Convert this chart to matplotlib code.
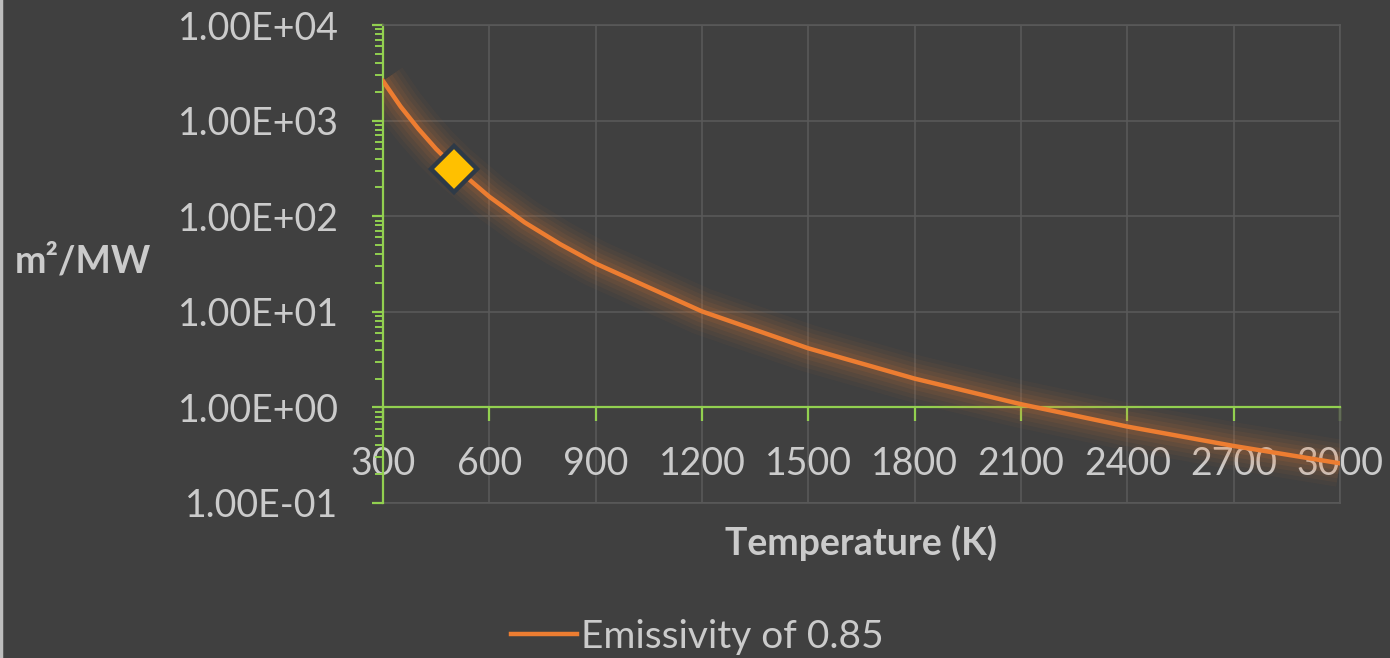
"""Area per MW of radiated heat vs temperature (emissivity 0.85), log scale."""
import matplotlib
matplotlib.use("Agg")
import matplotlib.pyplot as plt
from matplotlib.ticker import FixedLocator, FuncFormatter, LogLocator, NullFormatter
from matplotlib.lines import Line2D

# --------------------------------------------------------------------------- #
# Data
# --------------------------------------------------------------------------- #
temperature_k = [300, 350, 400, 450, 500, 600, 700, 800, 900, 1200, 1500,
                 1800, 2100, 2400, 2700, 3000]
area_m2_per_mw = [2600, 1400, 820, 505, 332, 160, 86, 51, 32, 10.1, 4.15,
                  2.0, 1.08, 0.63, 0.395, 0.26]
marker_t = [500]
marker_area = [310]
x_ticks = [300, 600, 900, 1200, 1500, 1800, 2100, 2400, 2700, 3000]
series_label = "Emissivity of 0.85"

BG = "#404040"
TXT = "#cbcbcb"
GRID = "#595959"
GREEN = "#92d050"
ORANGE = "#ed7d31"
FS = 27

plt.rcParams["font.family"] = ["Lato", "DejaVu Sans"]

fig = plt.figure(figsize=(13.9, 6.58), dpi=100, facecolor=BG)
ax = fig.add_axes([0.2755, 0.2356, 0.6885, 0.7264], facecolor=BG)

# soft glow under the line
for lw, a in [(34, 0.04), (28, 0.05), (22, 0.06), (16, 0.08), (10, 0.10)]:
    ax.plot(temperature_k, area_m2_per_mw, color=ORANGE, lw=lw, alpha=a,
            solid_capstyle="butt", solid_joinstyle="round", zorder=3)
ax.plot(temperature_k, area_m2_per_mw, color=ORANGE, lw=3.2,
        solid_joinstyle="round", zorder=4)
ax.plot(marker_t, marker_area, marker="D", ms=23, mfc="#ffc000",
        mec="#2e3a47", mew=3.2, ls="none", zorder=5, clip_on=False)

ax.set_yscale("log")
ax.set_xlim(300, 3000)
ax.set_ylim(0.1, 1e4)

ax.xaxis.set_major_locator(FixedLocator(x_ticks))
ax.yaxis.set_major_locator(LogLocator(base=10, numticks=10))
ax.yaxis.set_minor_locator(LogLocator(base=10, subs=range(2, 10), numticks=20))
ax.yaxis.set_minor_formatter(NullFormatter())
ax.yaxis.set_major_formatter(FuncFormatter(lambda v, _: f"{v:.2E}"))

ax.grid(True, which="major", color=GRID, lw=1.2, zorder=0)
ax.set_axisbelow(True)

# x axis crosses at y = 1
ax.spines["bottom"].set_position(("data", 1))
ax.spines["bottom"].set_color(GREEN)
ax.spines["bottom"].set_linewidth(1.6)
ax.spines["left"].set_color(GREEN)
ax.spines["left"].set_linewidth(1.6)
for s in ("top", "right"):
    ax.spines[s].set_color(GRID)
    ax.spines[s].set_linewidth(1.2)
ax.add_line(Line2D([0, 1], [0, 0], transform=ax.transAxes, color=GRID,
                   lw=1.2, clip_on=False, zorder=0))

ax.tick_params(axis="x", which="major", direction="out", length=10, width=1.6,
               color=GREEN, labelcolor=TXT, labelsize=FS, pad=18)
ax.tick_params(axis="y", which="major", direction="out", length=8, width=1.6,
               color=GREEN, labelcolor=TXT, labelsize=FS, pad=24)
ax.tick_params(axis="y", which="minor", direction="out", length=6, width=1.4,
               color=GREEN)

ax.set_xlabel("Temperature (K)", color=TXT, fontsize=FS, fontweight="bold",
              labelpad=0)
ax.xaxis.set_label_coords(0.5, -0.045)
ax.set_ylabel("m\u00b2/MW", color=TXT, fontsize=FS, fontweight="bold",
              rotation=0, ha="left", va="center")
ax.yaxis.set_label_coords(-0.385, 0.505)

leg_handle = Line2D([], [], color=ORANGE, lw=3.2)
fig.legend([leg_handle], [series_label], loc="center",
           bbox_to_anchor=(697 / 1390, 1 - 637 / 658), frameon=False,
           fontsize=FS + 1, labelcolor=TXT, handlelength=1.7, handletextpad=0.1)

# thin lighter strip on the left frame edge
fig.add_artist(Line2D([0.001, 0.001], [0, 1], transform=fig.transFigure,
                      color="#bdbdbd", lw=2.5))

fig.savefig("out.png", dpi=100, facecolor=BG)
